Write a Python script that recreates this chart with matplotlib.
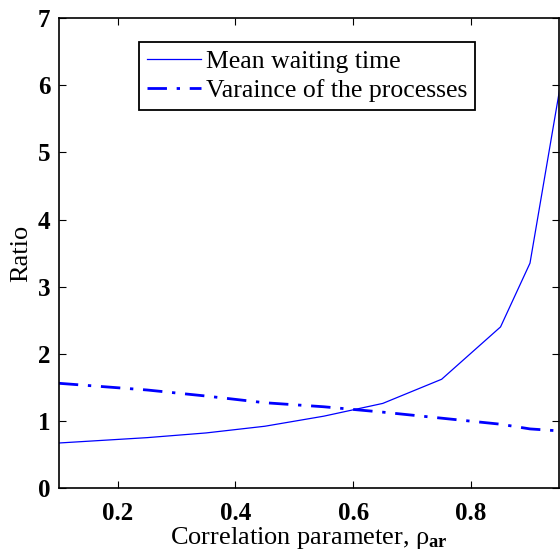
import matplotlib
matplotlib.use("Agg")
import matplotlib.pyplot as plt

plt.rcParams.update({
    'font.family': ['Liberation Serif', 'DejaVu Serif'],
    'mathtext.fontset': 'custom',
    'mathtext.rm': 'Liberation Serif',
    'mathtext.it': 'Liberation Serif:italic',
    'mathtext.bf': 'Liberation Serif:bold',
    'mathtext.default': 'regular',
})

# correlation parameter values and ratios
rho = [0.1, 0.25, 0.35, 0.45, 0.55, 0.65, 0.75, 0.85, 0.9, 0.95]
mean_wait = [0.67, 0.75, 0.82, 0.92, 1.07, 1.26, 1.62, 2.40, 3.35, 5.92]
var_proc = [1.56, 1.46, 1.37, 1.27, 1.21, 1.13, 1.04, 0.95, 0.88, 0.85]

xticks = [0.2, 0.4, 0.6, 0.8]
yticks = [0, 1, 2, 3, 4, 5, 6, 7]

fig = plt.figure(figsize=(5.6, 5.52), dpi=100)
ax = fig.add_axes([0.105, 0.116, 0.894, 0.851])

ax.plot(rho, mean_wait, color='#0000ff', lw=0.9, label='Mean waiting time')
ax.plot(rho, var_proc, color='#0000ff', lw=2.0, linestyle=(0, (7, 3.5, 1.2, 3.5)),
        label='Varaince of the processes')

ax.set_xlim(0.1, 0.95)
ax.set_ylim(0, 7)
ax.set_xticks(xticks)
ax.set_yticks(yticks)
ax.tick_params(axis='both', direction='in', top=True, right=True, length=5,
               width=0.8, labelsize=18)
ax.tick_params(axis='x', pad=10)
ax.tick_params(axis='y', pad=6)
for lab in ax.get_xticklabels() + ax.get_yticklabels():
    lab.set_fontweight('bold')
for s in ax.spines.values():
    s.set_linewidth(1.2)

ax.set_xlabel(r'Correlation parameter, ρ$_{\mathbf{ar}}$', fontsize=19, labelpad=0)
ax.set_ylabel('Ratio', fontsize=19, labelpad=4)

leg = ax.legend(loc='upper left', bbox_to_anchor=(0.16, 0.949), borderaxespad=0,
                fontsize=18.5, handlelength=2.1, handletextpad=0.2,
                labelspacing=0.25, borderpad=0.3, fancybox=False, framealpha=1)
leg.get_frame().set_edgecolor('black')
leg.get_frame().set_linewidth(1.3)

fig.savefig('out.png', dpi=100)
